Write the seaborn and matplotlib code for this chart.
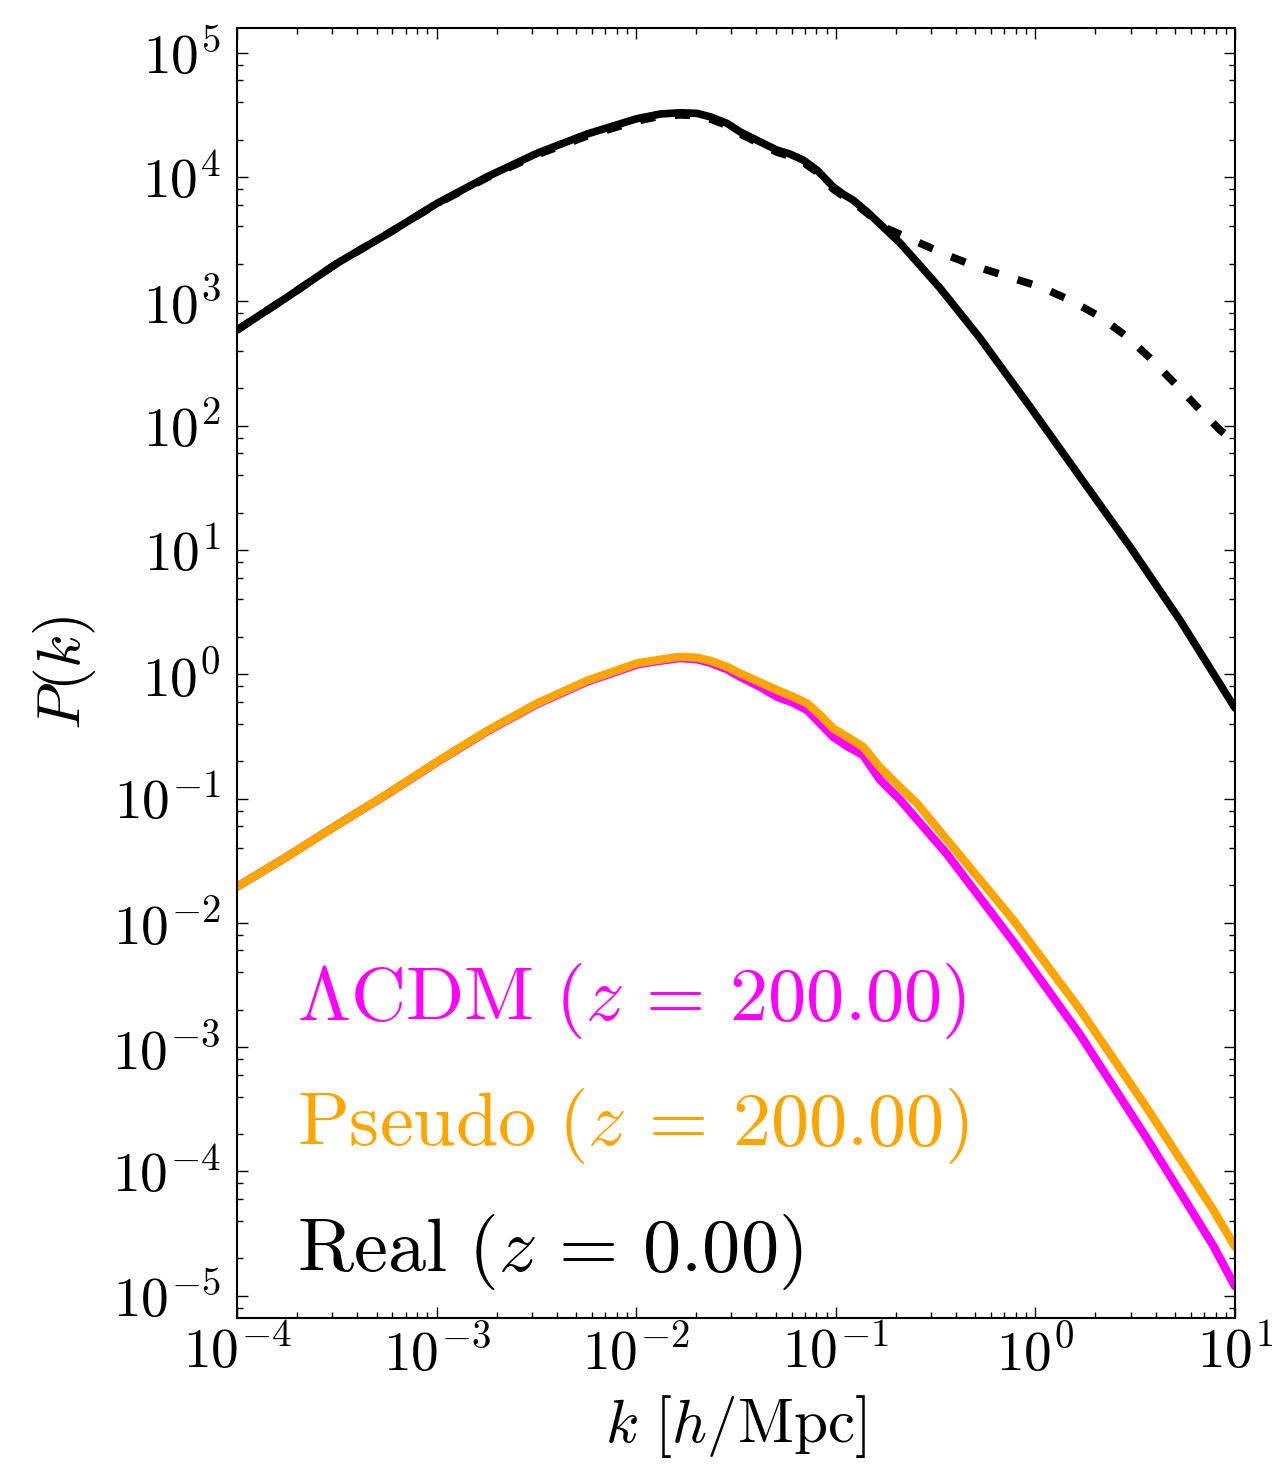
import numpy as np
import pandas as pd
import matplotlib
matplotlib.use("Agg")
import matplotlib.pyplot as plt
import seaborn as sns
from matplotlib.ticker import LogLocator, FuncFormatter, NullFormatter

# All spectra are tabulated as log10 k [h/Mpc] and log10 P(k).

# Real-space spectrum at z = 0, linear (solid black)
logk_real = [-4.000, -3.750, -3.499, -3.248, -2.998, -2.747, -2.497, -2.246,
             -2.000, -1.880, -1.780, -1.695, -1.630, -1.545, -1.480, -1.380,
             -1.295, -1.230, -1.164, -1.094, -1.014, -0.964, -0.914, -0.844,
             -0.764, -0.678, -0.593, -0.478, -0.278, -0.027, 0.223, 0.474,
             0.724, 1.000]
logp_real = [2.769, 3.032, 3.306, 3.541, 3.788, 4.002, 4.191, 4.346,
             4.468, 4.507, 4.517, 4.512, 4.485, 4.432, 4.364, 4.284,
             4.217, 4.185, 4.137, 4.056, 3.922, 3.863, 3.815, 3.721,
             3.600, 3.469, 3.316, 3.107, 2.705, 2.152, 1.589, 1.026,
             0.436, -0.272]

# Real-space spectrum at z = 0, non-linear (dashed black)
logk_real_nl = [-4.000, -3.750, -3.499, -3.248, -2.998, -2.747, -2.497, -2.246,
                -2.000, -1.880, -1.780, -1.695, -1.630, -1.545, -1.480, -1.380,
                -1.295, -1.230, -1.164, -1.094, -1.014, -0.964, -0.914, -0.844,
                -0.764, -0.613, -0.443, -0.293, -0.137, 0.023, 0.173, 0.324,
                0.459, 0.574, 0.690, 0.810, 0.925, 1.000]
logp_real_nl = [2.769, 3.032, 3.306, 3.541, 3.785, 3.995, 4.180, 4.330,
                4.450, 4.490, 4.500, 4.495, 4.468, 4.415, 4.348, 4.268,
                4.200, 4.168, 4.120, 4.040, 3.905, 3.848, 3.800, 3.710,
                3.600, 3.493, 3.372, 3.278, 3.198, 3.117, 3.010, 2.876,
                2.715, 2.544, 2.353, 2.152, 1.964, 1.870]

# LCDM initial spectrum at z = 200 (magenta)
logk_lcdm = [-4.000, -3.750, -3.499, -3.248, -2.998, -2.747, -2.497, -2.246,
             -1.996, -1.916, -1.781, -1.695, -1.630, -1.545, -1.480, -1.380,
             -1.295, -1.215, -1.144, -1.079, -1.014, -0.944, -0.864, -0.778,
             -0.678, -0.593, -0.444, -0.111, 0.223, 0.558, 0.891, 1.000]
logp_lcdm = [-1.710, -1.468, -1.213, -0.966, -0.707, -0.460, -0.240, -0.060,
             0.078, 0.100, 0.130, 0.120, 0.093, 0.040, -0.020, -0.101,
             -0.181, -0.229, -0.288, -0.395, -0.503, -0.578, -0.650, -0.850,
             -1.010, -1.169, -1.445, -2.151, -2.899, -3.733, -4.597, -4.925]

# Pseudo initial spectrum at z = 200 (orange)
logk_pseudo = [-4.000, -3.750, -3.499, -3.248, -2.998, -2.747, -2.497, -2.246,
               -1.996, -1.916, -1.781, -1.695, -1.630, -1.545, -1.480, -1.380,
               -1.295, -1.215, -1.144, -1.079, -1.014, -0.944, -0.864, -0.778,
               -0.678, -0.593, -0.444, -0.111, 0.223, 0.558, 0.891, 1.000]
logp_pseudo = [-1.710, -1.468, -1.213, -0.964, -0.704, -0.455, -0.234, -0.052,
               0.088, 0.109, 0.141, 0.133, 0.109, 0.060, 0.007, -0.065,
               -0.127, -0.181, -0.234, -0.328, -0.435, -0.503, -0.583, -0.750,
               -0.910, -1.040, -1.330, -1.977, -2.697, -3.488, -4.309, -4.606]

labels = [r"$\Lambda\mathrm{CDM}\ (z\,=\,200.00)$",
          r"$\mathrm{Pseudo}\ (z\,=\,200.00)$",
          r"$\mathrm{Real}\ (z\,=\,0.00)$"]
label_colors = ["#ff00ff", "orange", "black"]

sns.set_theme(style="ticks")
plt.rcParams.update({
    "font.family": "serif",
    "font.serif": ["cmr10", "DejaVu Serif"],
    "mathtext.fontset": "cm",
    "axes.unicode_minus": False,
    "axes.linewidth": 1.5,
    "axes.edgecolor": "black",
    "text.color": "black",
    "axes.labelcolor": "black",
    "xtick.color": "black",
    "ytick.color": "black",
})

fig = plt.figure(figsize=(12.72, 14.64), dpi=100)
ax = fig.add_axes([0.18632, 0.09973, 0.78459, 0.88115])


def table(logk, logp):
    return pd.DataFrame({"k": np.power(10.0, logk), "P": np.power(10.0, logp)})


sns.lineplot(data=table(logk_real, logp_real), x="k", y="P", ax=ax,
             color="black", lw=5.5, sort=False, estimator=None)
sns.lineplot(data=table(logk_real_nl, logp_real_nl), x="k", y="P", ax=ax,
             color="black", lw=5.5, sort=False, estimator=None)
ax.lines[-1].set_dashes([2.0, 2.6])
sns.lineplot(data=table(logk_lcdm, logp_lcdm), x="k", y="P", ax=ax,
             color="#ff00ff", lw=6, sort=False, estimator=None)
sns.lineplot(data=table(logk_pseudo, logp_pseudo), x="k", y="P", ax=ax,
             color="orange", lw=6, sort=False, estimator=None)

ax.set_xscale("log")
ax.set_yscale("log")
ax.set_xlim(1e-4, 1e1)
ax.set_ylim(10 ** -5.179, 10 ** 5.199)

decade = FuncFormatter(lambda v, p: r"$10^{%d}$" % int(round(np.log10(v))))
ax.xaxis.set_major_locator(LogLocator(base=10, numticks=30))
ax.yaxis.set_major_locator(LogLocator(base=10, numticks=30))
ax.xaxis.set_minor_locator(LogLocator(base=10, subs=np.arange(2, 10), numticks=60))
ax.yaxis.set_minor_locator(LogLocator(base=10, subs=(2, 4, 6, 8), numticks=60))
ax.xaxis.set_major_formatter(decade)
ax.yaxis.set_major_formatter(decade)
ax.xaxis.set_minor_formatter(NullFormatter())
ax.yaxis.set_minor_formatter(NullFormatter())

ax.tick_params(which="both", direction="in", top=True, right=True,
               color="black", width=1.0)
ax.tick_params(which="major", length=8, labelsize=40, labelcolor="black")
ax.tick_params(axis="x", which="major", pad=6)
ax.tick_params(axis="y", which="major", pad=12)
ax.tick_params(which="minor", length=4.5)
for s in ax.spines.values():
    s.set_visible(True)
    s.set_linewidth(1.5)

ax.set_xlabel(r"$k\ [h/\mathrm{Mpc}]$", fontsize=44, labelpad=8)
ax.set_ylabel(r"$P(k)$", fontsize=44, labelpad=10)

handles = [ax.lines[2], ax.lines[3], ax.lines[0]]
ax.legend(handles, labels, loc="lower left",
          bbox_to_anchor=(0.06, 0.020), borderaxespad=0, borderpad=0,
          frameon=False, handlelength=0, handletextpad=0,
          labelspacing=0.6, fontsize=55, labelcolor=label_colors)

fig.savefig("out.png", dpi=100)
